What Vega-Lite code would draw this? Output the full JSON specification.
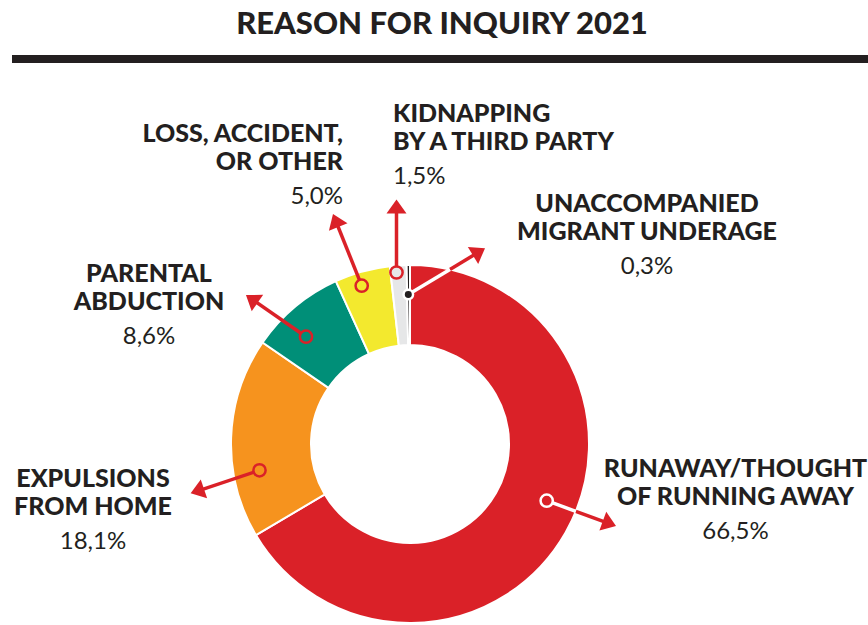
{
  "$schema": "https://vega.github.io/schema/vega-lite/v6.json",
  "width": 868,
  "height": 566,
  "autosize": {"type": "none"},
  "padding": {"top": 59, "left": 0, "right": 0, "bottom": 0},
  "background": "#ffffff",
  "config": {"view": {"stroke": null}},
  "title": {"text": "REASON FOR INQUIRY 2021", "font": "Lato", "fontSize": 31, "fontWeight": 900, "color": "#231f20", "anchor": "middle", "dx": 8, "dy": 30, "offset": 20, "baseline": "alphabetic"},
  "data": {"values": [
    {"reason": "RUNAWAY/THOUGHT OF RUNNING AWAY", "label": "RUNAWAY/THOUGHT|OF RUNNING AWAY", "pct": "66,5%", "share": 66.5, "rank": 1, "zone": "inside", "x0": 136.7, "y0": -56.7, "xe": 165.8, "ye": -67.3, "xh": 199.4, "yh": -79.6, "heading": 110, "lx": 325.5, "ly": -33},
    {"reason": "EXPULSIONS FROM HOME", "label": "EXPULSIONS|FROM HOME", "pct": "18,1%", "share": 18.1, "rank": 2, "zone": "outside", "x0": -150.5, "y0": -26.3, "xe": -150.5, "ye": -26.3, "xh": -212.7, "yh": -47.1, "heading": 251.5, "lx": -317, "ly": -42.7},
    {"reason": "PARENTAL ABDUCTION", "label": "PARENTAL|ABDUCTION", "pct": "8,6%", "share": 8.6, "rank": 3, "zone": "outside", "x0": -104, "y0": 107.3, "xe": -104, "ye": 107.3, "xh": -158.3, "yh": 145, "heading": 304.8, "lx": -261, "ly": 162},
    {"reason": "LOSS, ACCIDENT, OR OTHER", "label": "LOSS, ACCIDENT,|OR OTHER", "pct": "5,0%", "share": 5.0, "rank": 4, "zone": "outside", "x0": -48.3, "y0": 158.3, "xe": -48.3, "ye": 158.3, "xh": -74.4, "yh": 223.5, "heading": 338.1, "lx": -67, "ly": 302},
    {"reason": "KIDNAPPING BY A THIRD PARTY", "label": "KIDNAPPING|BY A THIRD PARTY", "pct": "1,5%", "share": 1.5, "rank": 5, "zone": "outside", "x0": -13.5, "y0": 171.5, "xe": -13.5, "ye": 171.5, "xh": -13.5, "yh": 237.5, "heading": 0, "lx": -17, "ly": 322.3},
    {"reason": "UNACCOMPANIED MIGRANT UNDERAGE", "label": "UNACCOMPANIED|MIGRANT UNDERAGE", "pct": "0,3%", "share": 0.3, "rank": 6, "zone": "inside", "x0": -1.7, "y0": 149.5, "xe": 39.9, "ye": 174.5, "xh": 69, "yh": 192.1, "heading": 58.9, "lx": 237, "ly": 232}
  ]},
  "layer": [
    {
      "mark": {"type": "arc", "innerRadius": 99, "outerRadius": 179, "stroke": "#ffffff", "strokeWidth": 2},
      "encoding": {
        "x": {"datum": 0, "type": "quantitative", "scale": {"domain": [-410, 458], "nice": false, "zero": false}, "axis": null},
        "y": {"datum": 0, "type": "quantitative", "scale": {"domain": [-181, 385], "nice": false, "zero": false}, "axis": null},
        "theta": {"field": "share", "type": "quantitative", "stack": true},
        "order": {"field": "rank", "type": "quantitative"},
        "color": {"field": "reason", "type": "nominal", "legend": null,
          "scale": {"domain": ["RUNAWAY/THOUGHT OF RUNNING AWAY", "EXPULSIONS FROM HOME", "PARENTAL ABDUCTION", "LOSS, ACCIDENT, OR OTHER", "KIDNAPPING BY A THIRD PARTY", "UNACCOMPANIED MIGRANT UNDERAGE"],
                    "range": ["#da2128", "#f6931e", "#008f78", "#f3e92e", "#e6e7e8", "#231f20"]}}
      }
    },
    {
      "mark": {"type": "rule", "color": "#da2128", "strokeWidth": 3.5},
      "encoding": {
        "x": {"field": "xe", "type": "quantitative", "scale": {"domain": [-410, 458], "nice": false, "zero": false}, "axis": null},
        "y": {"field": "ye", "type": "quantitative", "scale": {"domain": [-181, 385], "nice": false, "zero": false}, "axis": null},
        "x2": {"field": "xh"},
        "y2": {"field": "yh"}
      }
    },
    {
      "transform": [{"filter": "datum.zone === 'inside'"}],
      "mark": {"type": "rule", "color": "#ffffff", "strokeWidth": 3.5},
      "encoding": {
        "x": {"field": "x0", "type": "quantitative", "scale": {"domain": [-410, 458], "nice": false, "zero": false}, "axis": null},
        "y": {"field": "y0", "type": "quantitative", "scale": {"domain": [-181, 385], "nice": false, "zero": false}, "axis": null},
        "x2": {"field": "xe"},
        "y2": {"field": "ye"}
      }
    },
    {
      "mark": {"type": "point", "shape": "M0,-0.7L1,0.7L-1,0.7Z", "filled": true, "opacity": 1, "color": "#da2128", "size": 400, "strokeWidth": 0},
      "encoding": {
        "x": {"field": "xh", "type": "quantitative", "scale": {"domain": [-410, 458], "nice": false, "zero": false}, "axis": null},
        "y": {"field": "yh", "type": "quantitative", "scale": {"domain": [-181, 385], "nice": false, "zero": false}, "axis": null},
        "angle": {"field": "heading", "type": "quantitative", "scale": {"domain": [0, 360], "range": [0, 360]}, "legend": null}
      }
    },
    {
      "mark": {"type": "point", "shape": "circle", "filled": true, "opacity": 1, "strokeWidth": 2.5},
      "encoding": {
        "x": {"field": "x0", "type": "quantitative", "scale": {"domain": [-410, 458], "nice": false, "zero": false}, "axis": null},
        "y": {"field": "y0", "type": "quantitative", "scale": {"domain": [-181, 385], "nice": false, "zero": false}, "axis": null},
        "color": {"field": "reason", "type": "nominal", "legend": null},
        "stroke": {"field": "zone", "type": "nominal", "legend": null, "scale": {"domain": ["inside", "outside"], "range": ["#ffffff", "#da2128"]}},
        "size": {"condition": {"test": "datum.rank === 6", "value": 90}, "value": 150}
      }
    },
    {
      "transform": [{"filter": "datum.rank === 1 || datum.rank === 2 || datum.rank === 3 || datum.rank === 6"}],
      "mark": {"type": "text", "align": "center", "baseline": "alphabetic", "lineBreak": "|", "lineHeight": 28, "font": "Lato", "fontSize": 25, "fontWeight": 900, "color": "#231f20"},
      "encoding": {
        "x": {"field": "lx", "type": "quantitative", "scale": {"domain": [-410, 458], "nice": false, "zero": false}, "axis": null},
        "y": {"field": "ly", "type": "quantitative", "scale": {"domain": [-181, 385], "nice": false, "zero": false}, "axis": null},
        "text": {"field": "label", "type": "nominal"}
      }
    },
    {
      "transform": [{"filter": "datum.rank === 1 || datum.rank === 2 || datum.rank === 3 || datum.rank === 6"}],
      "mark": {"type": "text", "align": "center", "baseline": "alphabetic", "dy": 62, "font": "Lato", "fontSize": 24, "fontWeight": "normal", "color": "#231f20"},
      "encoding": {
        "x": {"field": "lx", "type": "quantitative", "scale": {"domain": [-410, 458], "nice": false, "zero": false}, "axis": null},
        "y": {"field": "ly", "type": "quantitative", "scale": {"domain": [-181, 385], "nice": false, "zero": false}, "axis": null},
        "text": {"field": "pct", "type": "nominal"}
      }
    },
    {
      "transform": [{"filter": "datum.rank === 5"}],
      "mark": {"type": "text", "align": "left", "baseline": "alphabetic", "lineBreak": "|", "lineHeight": 28, "font": "Lato", "fontSize": 25, "fontWeight": 900, "color": "#231f20"},
      "encoding": {
        "x": {"field": "lx", "type": "quantitative", "scale": {"domain": [-410, 458], "nice": false, "zero": false}, "axis": null},
        "y": {"field": "ly", "type": "quantitative", "scale": {"domain": [-181, 385], "nice": false, "zero": false}, "axis": null},
        "text": {"field": "label", "type": "nominal"}
      }
    },
    {
      "transform": [{"filter": "datum.rank === 5"}],
      "mark": {"type": "text", "align": "left", "baseline": "alphabetic", "dy": 62, "font": "Lato", "fontSize": 24, "fontWeight": "normal", "color": "#231f20"},
      "encoding": {
        "x": {"field": "lx", "type": "quantitative", "scale": {"domain": [-410, 458], "nice": false, "zero": false}, "axis": null},
        "y": {"field": "ly", "type": "quantitative", "scale": {"domain": [-181, 385], "nice": false, "zero": false}, "axis": null},
        "text": {"field": "pct", "type": "nominal"}
      }
    },
    {
      "transform": [{"filter": "datum.rank === 4"}],
      "mark": {"type": "text", "align": "right", "baseline": "alphabetic", "lineBreak": "|", "lineHeight": 28, "font": "Lato", "fontSize": 25, "fontWeight": 900, "color": "#231f20"},
      "encoding": {
        "x": {"field": "lx", "type": "quantitative", "scale": {"domain": [-410, 458], "nice": false, "zero": false}, "axis": null},
        "y": {"field": "ly", "type": "quantitative", "scale": {"domain": [-181, 385], "nice": false, "zero": false}, "axis": null},
        "text": {"field": "label", "type": "nominal"}
      }
    },
    {
      "transform": [{"filter": "datum.rank === 4"}],
      "mark": {"type": "text", "align": "right", "baseline": "alphabetic", "dy": 62, "font": "Lato", "fontSize": 24, "fontWeight": "normal", "color": "#231f20"},
      "encoding": {
        "x": {"field": "lx", "type": "quantitative", "scale": {"domain": [-410, 458], "nice": false, "zero": false}, "axis": null},
        "y": {"field": "ly", "type": "quantitative", "scale": {"domain": [-181, 385], "nice": false, "zero": false}, "axis": null},
        "text": {"field": "pct", "type": "nominal"}
      }
    },
    {
      "data": {"values": [{}]},
      "mark": {"type": "rule", "color": "#231f20", "strokeWidth": 8},
      "encoding": {
        "x": {"datum": -398, "type": "quantitative", "scale": {"domain": [-410, 458], "nice": false, "zero": false}, "axis": null},
        "x2": {"datum": 458},
        "y": {"datum": 385, "type": "quantitative", "scale": {"domain": [-181, 385], "nice": false, "zero": false}, "axis": null}
      }
    }
  ]
}
